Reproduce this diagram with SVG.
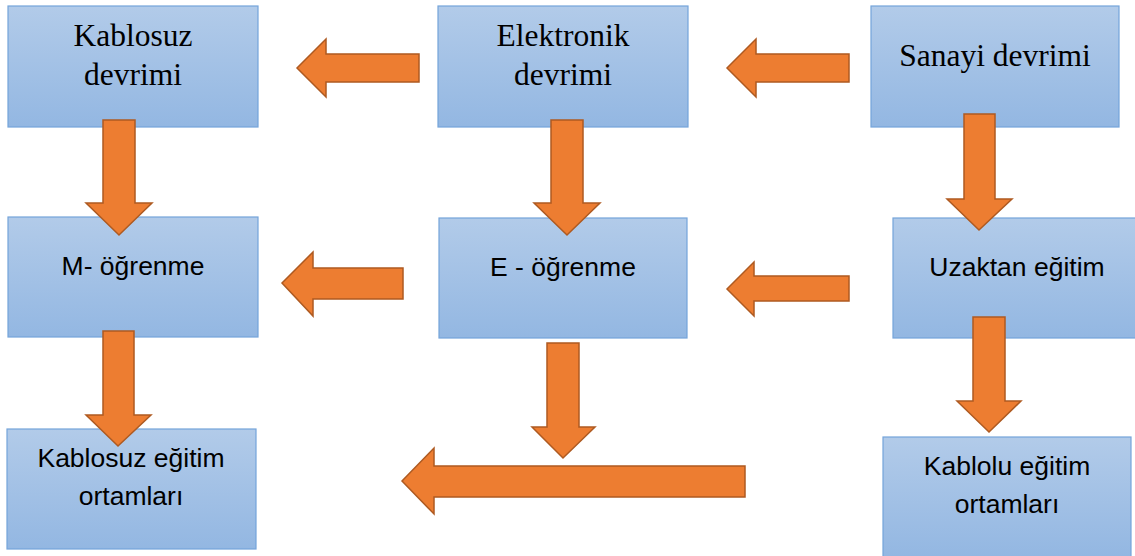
<svg xmlns="http://www.w3.org/2000/svg" width="1135" height="556" viewBox="0 0 1135 556">
<style>
.box{fill:url(#g);stroke:#74a4da;stroke-width:1.2}
.serif{font-family:"Liberation Serif","Times New Roman",serif;font-size:31.5px;fill:#000;text-anchor:middle}
.sans{font-family:"Liberation Sans",Arial,sans-serif;font-size:26.5px;fill:#000;text-anchor:middle}
.arr{fill:#ED7D31;stroke:#AE5A21;stroke-width:1.5;stroke-linejoin:miter}
</style>
<defs>
<linearGradient id="g" x1="0" y1="0" x2="0" y2="1">
<stop offset="0" stop-color="#b2cbe9"/>
<stop offset="1" stop-color="#93b7e2"/>
</linearGradient>
</defs>
<rect width="1135" height="556" fill="#fff"/>
<g id="kablosuz-devrimi"><rect class="box" x="8" y="6" width="250" height="121"/><text class="serif" x="133" y="46">Kablosuz</text><text class="serif" x="133" y="85">devrimi</text></g>
<g id="elektronik-devrimi"><rect class="box" x="438" y="6" width="250" height="121"/><text class="serif" x="563" y="46">Elektronik</text><text class="serif" x="563" y="85">devrimi</text></g>
<g id="sanayi-devrimi"><rect class="box" x="871" y="6" width="248" height="121"/><text class="serif" x="995" y="66">Sanayi devrimi</text></g>
<g id="m-ogrenme"><rect class="box" x="8" y="217" width="250" height="120"/><text class="sans" x="133" y="275">M- öğrenme</text></g>
<g id="e-ogrenme"><rect class="box" x="439" y="218" width="248" height="120"/><text class="sans" x="563" y="276">E - öğrenme</text></g>
<g id="uzaktan-egitim"><rect class="box" x="893" y="218" width="245" height="120"/><text class="sans" x="1017" y="276">Uzaktan eğitim</text></g>
<g id="kablosuz-egitim"><rect class="box" x="7" y="429" width="249" height="120"/><text class="sans" x="131" y="467">Kablosuz eğitim</text><text class="sans" x="131" y="505">ortamları</text></g>
<g id="kablolu-egitim"><rect class="box" x="883" y="437" width="248" height="120"/><text class="sans" x="1007" y="475">Kablolu eğitim</text><text class="sans" x="1007" y="513">ortamları</text></g>
<g id="connectors">
<polygon class="arr" points="419,54 326,54 326,39 297,68 326,97 326,82 419,82"/>
<polygon class="arr" points="849,54 756,54 756,39 727,68 756,97 756,82 849,82"/>
<polygon class="arr" points="103,120 135,120 135,203 152,203 119,235 86,203 103,203"/>
<polygon class="arr" points="551,120 583,120 583,203 600,203 567,235 534,203 551,203"/>
<polygon class="arr" points="964,114 995,114 995,199 1012,199 979,230 947,199 964,199"/>
<polygon class="arr" points="403,268 313,268 313,252 282,283 313,316 313,299 403,299"/>
<polygon class="arr" points="849,276 754,276 754,262 727,289 754,316 754,301 849,301"/>
<polygon class="arr" points="103,331 134,331 134,415 151,415 118,446 86,415 103,415"/>
<polygon class="arr" points="547,343 579,343 579,427 595,427 563,458 532,427 547,427"/>
<polygon class="arr" points="973,317 1005,317 1005,401 1021,401 989,432 957,401 973,401"/>
<polygon class="arr" points="745,466 434,466 434,448 402,481 434,514 434,497 745,497"/>
</g>
</svg>
